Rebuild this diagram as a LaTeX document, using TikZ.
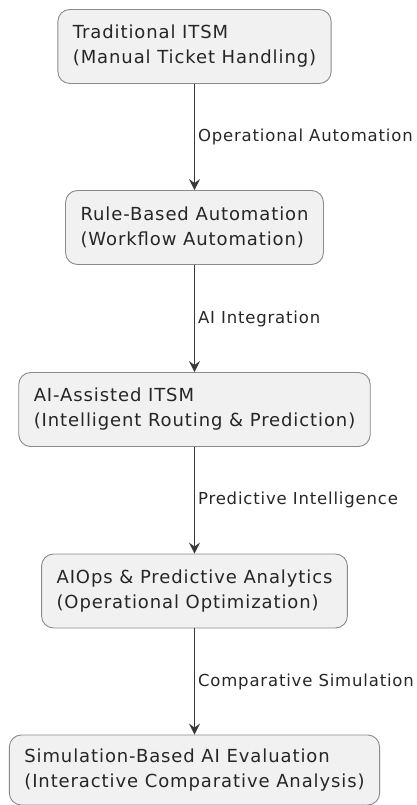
\documentclass[tikz,border=0pt]{standalone}
\usepackage{fontspec}
\setmainfont{DejaVu Sans}[LetterSpace=5]
\usepackage{xcolor}
\usepackage{tikz}
\usetikzlibrary{positioning, arrows.meta}

\definecolor{boxfill}{HTML}{F1F1F1}
\definecolor{boxline}{HTML}{8A8A8A}
\definecolor{flowline}{HTML}{383838}

\tikzset{
	stage/.style={draw=boxline, fill=boxfill, line width=0.9pt, rounded corners=12pt,
		align=left, inner xsep=15pt, minimum height=74pt,
		font=\fontsize{18}{25}\selectfont, text=black!85},
	flow/.style={draw=flowline, line width=1.1pt, -{Stealth[length=11pt, width=11pt, inset=4pt]}},
	flowlabel/.style={anchor=west, font=\fontsize{16.5}{18}\selectfont, text=black!85, inner sep=0pt, xshift=3pt}
}

\begin{document}
\begin{tikzpicture}[x=1pt, y=1pt]
	\useasboundingbox (0, 0) rectangle (417, -805);
	% Stages:
	\node[stage] (trad) at (194.5, -46.5) {Traditional ITSM\\(Manual Ticket Handling)};
	\node[stage] (rule) at (194.5, -227.5) {Rule-Based Automation\\(Workflow Automation)};
	\node[stage] (assist) at (194.5, -409.5) {AI-Assisted ITSM\\(Intelligent Routing \& Prediction)};
	\node[stage] (aiops) at (194.5, -591) {AIOps \& Predictive Analytics\\(Operational Optimization)};
	\node[stage, minimum height=70pt] (sim) at (194.5, -770) {Simulation-Based AI Evaluation\\(Interactive Comparative Analysis)};
	% Transitions:
	\draw[flow] (trad) -- node[flowlabel]{Operational Automation} (rule);
	\draw[flow] (rule) -- node[flowlabel]{AI Integration} (assist);
	\draw[flow] (assist) -- node[flowlabel]{Predictive Intelligence} (aiops);
	\draw[flow] (aiops) -- node[flowlabel]{Comparative Simulation} (sim);
\end{tikzpicture}
\end{document}
